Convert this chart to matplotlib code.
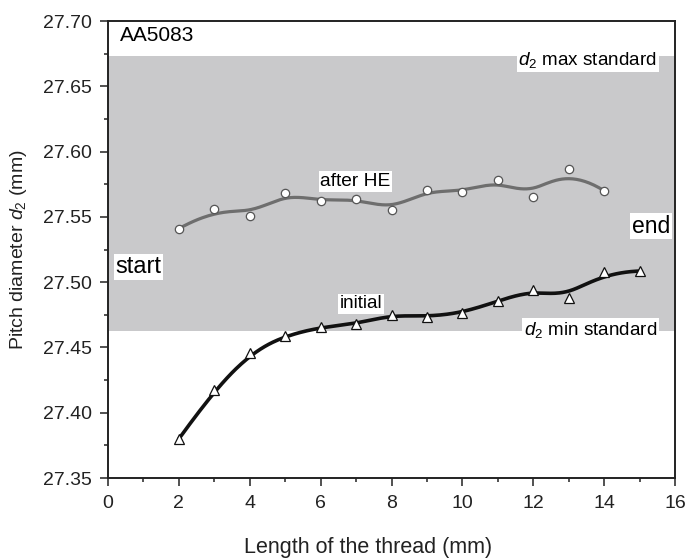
import numpy as np
import matplotlib
matplotlib.use("Agg")
import matplotlib.pyplot as plt
from matplotlib.ticker import MultipleLocator

plt.rcParams['font.family'] = ['Liberation Sans', 'DejaVu Sans']
plt.rcParams['mathtext.fontset'] = 'custom'
plt.rcParams['mathtext.rm'] = 'Liberation Sans'
plt.rcParams['mathtext.it'] = 'Liberation Sans:italic'

# ---- data ----
x_he = [2, 3, 4, 5, 6, 7, 8, 9, 10, 11, 12, 13, 14]
y_he = [27.541, 27.556, 27.551, 27.568, 27.562, 27.564, 27.5555, 27.5705,
        27.569, 27.578, 27.565, 27.587, 27.570]
x_init = [2, 3, 4, 5, 6, 7, 8, 9, 10, 11, 12, 13, 14, 15]
y_init = [27.380, 27.4175, 27.446, 27.459, 27.4655, 27.468, 27.475, 27.4735,
          27.4765, 27.4855, 27.494, 27.488, 27.5075, 27.5085]
d2_min = 27.4625
d2_max = 27.673


def bspline(xs, ys, n=400, k=3):
    P = np.column_stack([xs, ys]).astype(float)
    m = len(P)
    knots = np.concatenate([np.zeros(k), np.linspace(0, 1, m - k + 1), np.ones(k)])
    t = np.linspace(0, 1, n)
    t[-1] = 1 - 1e-10

    def N(i, p, t):
        if p == 0:
            return ((knots[i] <= t) & (t < knots[i + 1])).astype(float)
        out = np.zeros_like(t)
        d1 = knots[i + p] - knots[i]
        if d1 > 0:
            out += (t - knots[i]) / d1 * N(i, p - 1, t)
        d2 = knots[i + p + 1] - knots[i + 1]
        if d2 > 0:
            out += (knots[i + p + 1] - t) / d2 * N(i + 1, p - 1, t)
        return out

    B = np.array([N(i, k, t) for i in range(m)])
    C = B.T @ P
    return C[:, 0], C[:, 1]


fig = plt.figure(figsize=(6.85, 5.59), dpi=100)
ax = fig.add_axes([0.1577, 0.1449, 0.8277, 0.8175])

ax.set_xlim(0, 16)
ax.set_ylim(27.35, 27.70)

ax.axhspan(d2_min, d2_max, color='#c9c9cb', zorder=0, lw=0)

bx, by = bspline(x_he, y_he)
ax.plot(bx, by, color='#6e6e6e', lw=2.3, zorder=2, solid_capstyle='round')
ax.plot(x_he, y_he, ls='none', marker='o', ms=6, mfc='white', mec='#555555',
        mew=0.9, zorder=3)

bx, by = bspline(x_init, y_init)
ax.plot(bx, by, color='#111111', lw=2.6, zorder=2, solid_capstyle='round')
ax.plot(x_init, y_init, ls='none', marker='^', ms=7.5, mfc='white', mec='#111111',
        mew=0.9, zorder=3)

box = dict(facecolor='white', edgecolor='none', pad=1.2)
ax.text(0.34, 27.689, 'AA5083', fontsize=15, va='center', ha='left')
ax.text(15.49, 27.670, r'$d_2$ max standard', fontsize=13.6, va='center', ha='right', bbox=box)
ax.text(15.49, 27.4635, r'$d_2$ min standard', fontsize=13.6, va='center', ha='right', bbox=box)
ax.text(0.22, 27.5116, 'start', fontsize=17, va='center', ha='left', bbox=box)
ax.text(15.86, 27.543, 'end', fontsize=16.5, va='center', ha='right', bbox=box)
ax.text(6.98, 27.577, 'after HE', fontsize=13.8, va='center', ha='center', bbox=box)
ax.text(7.15, 27.4833, 'initial', fontsize=13.6, va='center', ha='center', bbox=box)

ax.xaxis.set_major_locator(MultipleLocator(2))
ax.xaxis.set_minor_locator(MultipleLocator(1))
ax.yaxis.set_major_locator(MultipleLocator(0.05))
ax.yaxis.set_minor_locator(MultipleLocator(0.025))
ax.yaxis.set_major_formatter(plt.FormatStrFormatter('%.2f'))
ax.tick_params(which='major', direction='out', length=5.8, width=1.1, labelsize=14,
               colors='#222222')
ax.tick_params(which='minor', direction='out', length=3, width=1.1, colors='#222222')
ax.tick_params(axis='x', which='major', pad=6.5)
ax.tick_params(axis='y', which='major', pad=5.5)
for s in ax.spines.values():
    s.set_linewidth(1.4)
    s.set_color('#222222')

ax.set_xlabel('Length of the thread (mm)', fontsize=15.5, color='#222222')
ax.xaxis.set_label_coords(0.4586, -0.151)
ax.xaxis.label.set_va('center')
ax.set_ylabel(r'Pitch diameter $d_2$ (mm)', fontsize=14, color='#222222')
ax.yaxis.set_label_coords(-0.1587, 0.5)
ax.yaxis.label.set_va('center')

fig.savefig('out.png', dpi=100)
